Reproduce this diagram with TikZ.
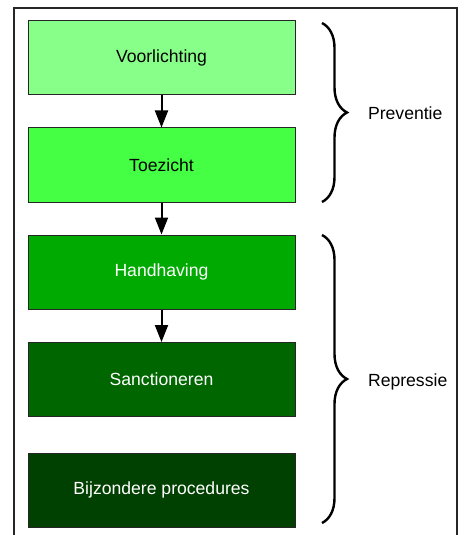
\documentclass[tikz,border=0pt]{standalone}
\usepackage{fontspec}
\setmainfont{Liberation Sans}
\usetikzlibrary{arrows.meta}
\usetikzlibrary{positioning}
\usetikzlibrary{decorations.pathreplacing}

\begin{document}
\begin{tikzpicture}[x=0.5pt, y=-0.5pt, >={Triangle[length=8.5pt,width=6.5pt]}]
	
	\definecolor{greenA}{RGB}{136,255,136}
	\definecolor{greenB}{RGB}{68,255,68}
	\definecolor{greenC}{RGB}{0,170,0}
	\definecolor{greenD}{RGB}{0,102,0}
	\definecolor{greenE}{RGB}{0,64,0}
	
	\tikzset{
		box/.style={draw=black!85, line width=0.5pt, minimum width=133.5pt, minimum height=37pt, inner sep=0pt, font=\fontsize{8.8}{10}\selectfont},
		arrowK/.style={->, line width=1pt, draw=black},
		bracebig/.style={decorate, decoration={brace, amplitude=12.5pt}, line width=1.2pt},
		lab/.style={anchor=west, font=\fontsize{8.8}{10}\selectfont},
	}
	
	% --- canvas and open frame
	\path[use as bounding box] (0,0) rectangle (463,535);
	\draw[line width=0.75pt, draw=black!85] (14,545) |- (457,8) -- (457,545);
	
	% --- steps
	\node[box, fill=greenA] (voorl) at (161.5,58) {Voorlichting};
	\node[box, fill=greenB] (toez) at (161.5,165) {Toezicht};
	\node[box, fill=greenC, text=white] (handh) at (161.5,272) {Handhaving};
	\node[box, fill=greenD, text=white] (sanct) at (161.5,379.5) {Sanctioneren};
	\node[box, fill=greenE, text=white] (bijz) at (161.5,490) {Bijzondere procedures};
	
	\draw[arrowK] (voorl.south) -- (toez.north);
	\draw[arrowK] (toez.south) -- (handh.north);
	\draw[arrowK] (handh.south) -- (sanct.north);
	
	% --- braces
	\coordinate (prevtop) at (322,23);
	\coordinate (prevbot) at (322,202);
	\coordinate (reptop) at (322,235);
	\coordinate (repbot) at (322,523);
	\draw[bracebig] (prevtop) -- (prevbot);
	\draw[bracebig] (reptop) -- (repbot);
	
	\node[lab] (prev) at (361,113) {Preventie};
	\node[lab] (rep) at (361,382) {Repressie};
	
\end{tikzpicture}
\end{document}
